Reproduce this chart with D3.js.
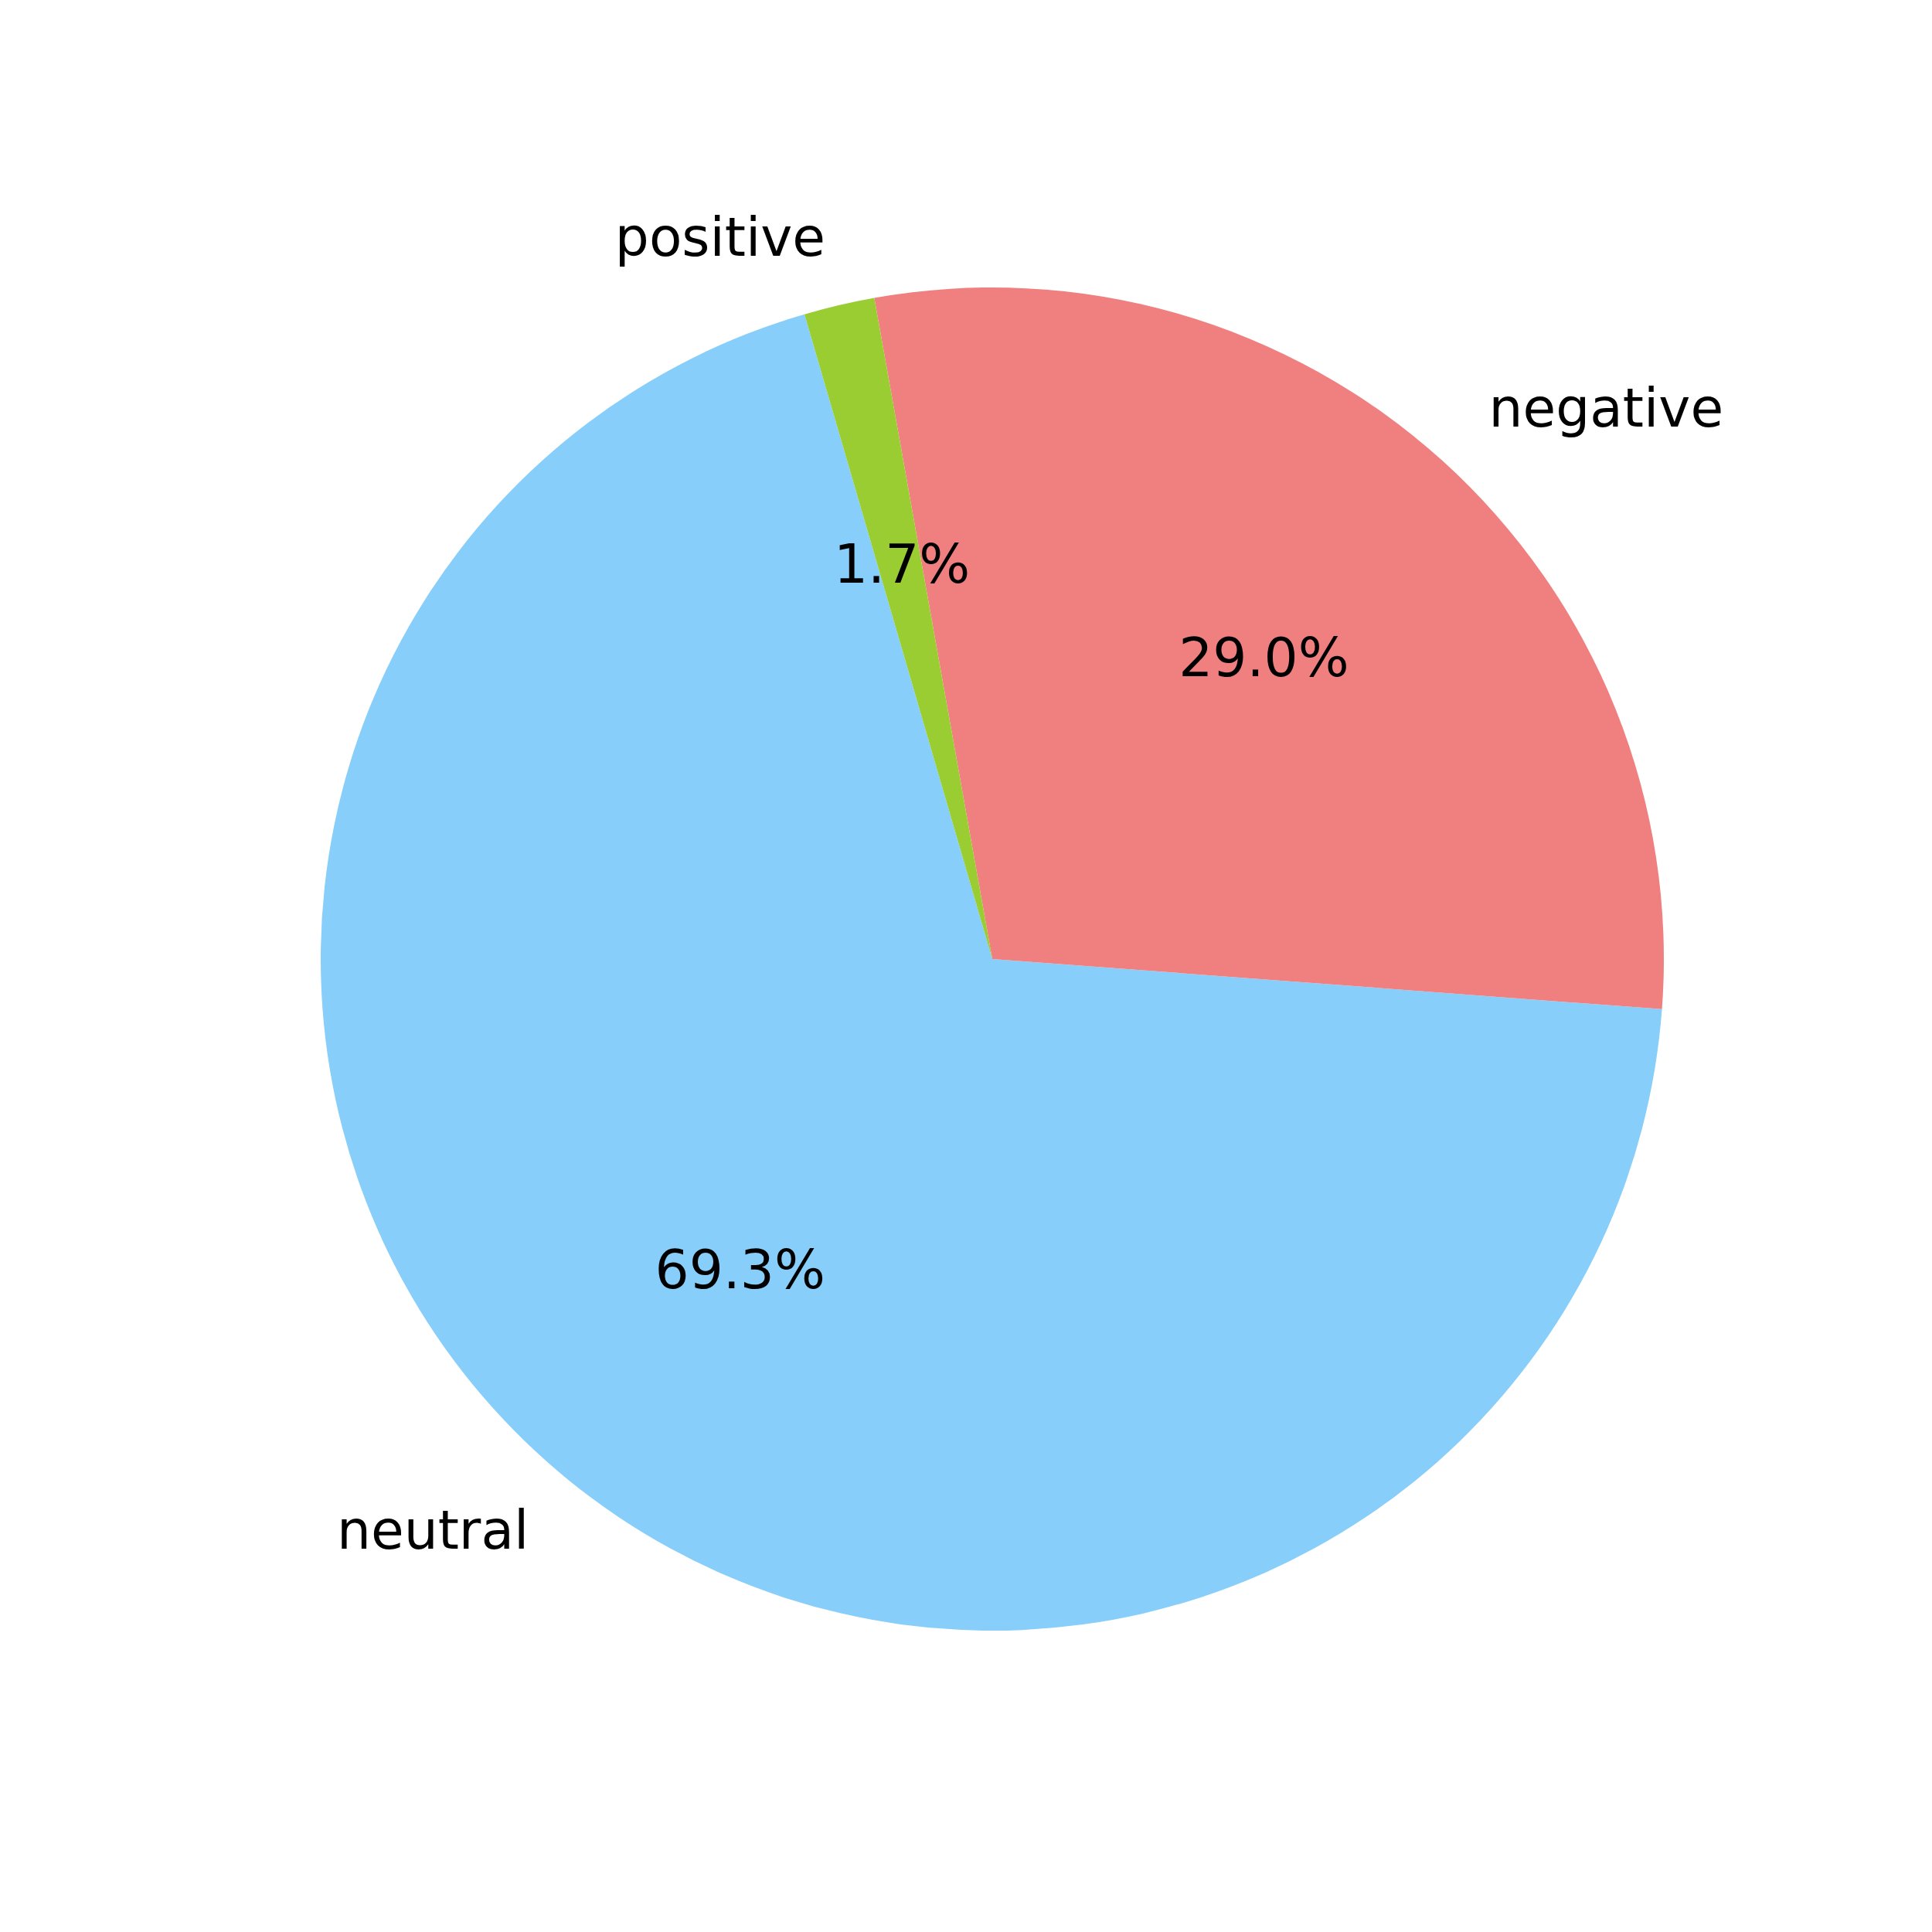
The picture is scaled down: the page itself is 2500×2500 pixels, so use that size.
<!DOCTYPE html>
<html>
<head>
<meta charset="utf-8">
<script src="https://cdn.jsdelivr.net/npm/d3@7"></script>
<style>
  html, body { margin: 0; padding: 0; background: #fff; }
  text { font-family: "DejaVu Sans", sans-serif; }
</style>
</head>
<body>
<div id="chart"></div>
<script>
// Datos del gráfico (porcentajes)
const categories = ["neutral", "negative", "positive"];
const values = [69.3, 29.0, 1.7];
const colors = ["#87CEFA", "#F08080", "#9ACD32"];

// Dimensiones
const width = 2500;
const height = 2500;
const cx = 1284, cy = 1241;
const radius = 869;
const fontSize = 69.4;

// Ángulo inicial (estilo matplotlib, grados en sentido antihorario desde las 3 en punto)
const startDeg = 106.24;
const toD3 = deg => (90 - deg) * Math.PI / 180;

const svg = d3.select("#chart").append("svg")
    .attr("width", width)
    .attr("height", height);

const g = svg.append("g")
    .attr("transform", `translate(${cx},${cy})`);

const data = categories.map((c, i) => ({ label: c, value: values[i], color: colors[i] }));

// Pie en sentido antihorario
const pie = d3.pie()
    .sort(null)
    .value(d => d.value)
    .startAngle(toD3(startDeg))
    .endAngle(toD3(startDeg) - 2 * Math.PI);

const arcs = pie(data);

const arc = d3.arc().innerRadius(0).outerRadius(radius);

g.selectAll("path.slice")
    .data(arcs)
    .enter()
    .append("path")
    .attr("class", "slice")
    .attr("d", arc)
    .attr("fill", d => d.data.color);

// Etiquetas de categoría a 1.1 * radio
const mid = d => (d.startAngle + d.endAngle) / 2;

g.selectAll("text.label")
    .data(arcs)
    .enter()
    .append("text")
    .attr("class", "label")
    .attr("x", d => 1.1 * radius * Math.sin(mid(d)) + 2)
    .attr("y", d => -1.1 * radius * Math.cos(mid(d)))
    .attr("dy", "0.3em")
    .attr("text-anchor", d => Math.sin(mid(d)) > 0 ? "start" : "end")
    .style("font-size", fontSize + "px")
    .attr("fill", "#000")
    .text(d => d.data.label);

// Porcentajes a 0.6 * radio
g.selectAll("text.pct")
    .data(arcs)
    .enter()
    .append("text")
    .attr("class", "pct")
    .attr("x", d => 0.6 * radius * Math.sin(mid(d)) + 2)
    .attr("y", d => -0.6 * radius * Math.cos(mid(d)))
    .attr("dy", "0.3em")
    .attr("text-anchor", "middle")
    .style("font-size", fontSize + "px")
    .attr("fill", "#000")
    .text(d => d.data.value.toFixed(1) + "%");
</script>
</body>
</html>
